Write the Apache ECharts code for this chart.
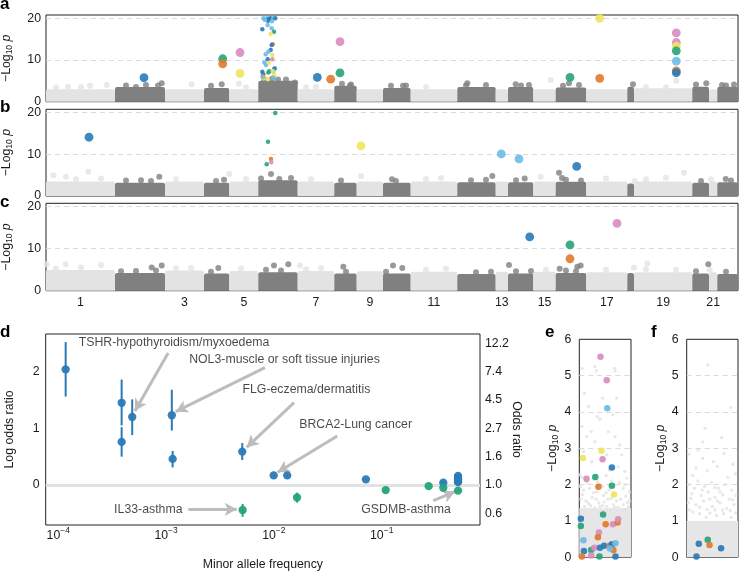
<!DOCTYPE html>
<html><head><meta charset="utf-8">
<script src="https://cdn.jsdelivr.net/npm/echarts@6/dist/echarts.min.js"></script>
<style>html,body{margin:0;padding:0;background:#fff}#c{width:739px;height:571px}</style>
</head><body><div id="c"></div>
<script>
// ---------- Manhattan panels (a, b, c) ----------
const CHR_SIZES = [69,50,39,25.3,29,39.4,36.6,22.4,26.3,27.7,46.6,38.4,12.3,25.3,22.4,30.6,41,6.7,58.3,16.7,8.3,20.7];
const CHR_TICK_LABELS = ['1','3','5','7','9','11','13','15','17','19','21'];
const MANHATTAN_TICKS = [0,10,20];
const MANHATTAN_GRIDLINES = [10,20];

const MASS_A = [3.0,3.5,3.0,3.3,3.0,5.0,3.0,3.8,3.0,3.3,3.0,3.5,3.0,3.5,3.0,3.4,3.0,3.6,3.2,3.6,3.0,3.6];
const MASS_B = [3.5,3.2,3.5,3.2,3.5,3.8,3.5,3.2,3.5,3.2,3.5,3.3,3.5,3.3,3.5,3.4,3.5,3.0,3.5,3.2,3.5,3.3];
const MASS_C = [4.9,4.2,4.8,4.1,4.7,4.4,4.7,4.1,4.6,4.1,4.5,4.0,4.5,4.1,4.5,4.2,4.4,4.2,4.4,4.1,4.4,4.0];

const GRAY_A = [[22,3.6],[44,3.8],[60.7,4.0],[90,3.5],[115.7,4.4],[145.7,4.2],[175.7,4.2],[193,4.3],[226,5.5],[232,5.3],[249,4.6],[270,3.6],[304,3.9],[357,3.8],[421.3,4.4],[469.7,4.2],[504.7,5.2],[523,4.4],[587,4.2],[630.3,5.0],[660.3,4.4],[680,3.9],
  [80,3.9],[100,4.0],[112,3.9],[165,3.8],[218,5.4],[240,5.3],[296,4.3],[305,4.1],[345,3.8],[360,3.9],[420,3.9],[440,4.0],[475,3.9],[483,4.0],[517,3.8],[533,4.0],[650,4.1],[676,4.0],[688,4.1],
  [10,3.4],[35,3.5],[200,3.4],[260,3.4],[380,3.5],[600,3.5],[620,3.4]];
const GRAY_B = [[7.3,5.0],[20,4.6],[42.3,5.8],[113.3,4.6],[183.3,5.3],[225,5.3],[233.3,4.1],[315,4.8],[346,4.0],[446.3,4.8],[478.7,4.2],[494.7,4.6],[513,5.6],[516,4.3],[588.7,3.6],[638,5.6],[679.7,4.1],
  [80,3.7],[95,3.8],[105,3.6],[170,3.6],[178,3.9],[215,4.2],[245,4.3],[295,3.7],[350,3.6],[425,3.8],[440,3.9],[470,3.8],[520,3.9],[535,3.7],[655,3.6],[685,3.7],
  [30,4.0],[55,4.2],[130,4.0],[200,4.1],[265,4.0],[380,4.1],[395,4.3],[560,4.2],[600,4.0],[620,4.4],[665,4.0]];
const GRAY_C = [[0.7,6.3],[19.7,6.3],[55,6.1],[105.7,5.5],[115.7,6.0],[172.3,5.4],[228,6.0],[242.3,6.3],[254,6.0],[297.3,5.7],[347,6.0],[356.3,5.4],[463,6.1],[513.7,5.2],[531.3,5.7],[534.7,6.0],[588,5.5],[601.3,6.5],[662.3,6.3],[663.7,4.9],
  [75,4.6],[90,4.7],[110,4.8],[165,4.5],[220,5.0],[235,4.8],[300,4.5],[340,4.5],[430,4.4],[445,4.5],[470,4.6],[485,4.7],[520,4.8],[530,4.6],[650,4.6],[680,4.5],
  [10,5.3],[35,5.5],[130,5.3],[145,5.4],[195,5.2],[260,5.1],[275,5.4],[380,5.0],[400,5.2],[500,5.0],[560,5.0],[600,5.1],[630,5.0]];

const HITS_A = [[98,5.75,'blue'],[176.7,10.3,'green'],[176.7,9.1,'orange'],[194,11.8,'pink'],[194,6.8,'yellow'],[271.3,5.85,'blue'],[284.7,5.4,'orange'],[294,14.4,'pink'],[294,6.9,'green'],[524,5.85,'green'],[553.7,5.6,'orange'],[553.7,20.0,'yellow'],[630.3,16.5,'pink'],[630.3,14.2,'pink'],[630.3,13.3,'yellow'],[630.3,12.2,'green'],[630.3,9.75,'sky'],[630.3,7.4,'orange'],[630.3,6.95,'blue']];
const HITS_A_SMALL = [[217.3,20,'sky'],[220.7,20,'sky'],[223,19.9,'blue'],[224.7,20,'blue'],[227.3,20,'sky'],[229.3,20,'blue'],[222,19.4,'blue'],[219,19.6,'sky'],[226,19.3,'sky'],[221.7,18.4,'sky'],[216.3,17.4,'blue'],[225.7,17.6,'sky'],[228,16.8,'green'],[224.7,16.3,'yellow'],[226.7,13.8,'orange'],[225.7,13.6,'blue'],[224.7,12.4,'blue'],[222.3,12.0,'sky'],[219.7,11.4,'sky'],[226.3,11.2,'yellow'],[221.7,10.2,'blue'],[226.3,10.2,'pink'],[218.3,9.4,'sky'],[220,8.8,'sky'],[223,9.3,'yellow'],[229,8.0,'sky'],[228.3,7.9,'blue'],[223.3,7.3,'green'],[216.3,7.2,'blue'],[227.3,7.2,'sky'],[222.3,7.0,'green'],[226.7,7.35,'yellow'],[228.3,6.4,'yellow'],[217.3,6.6,'blue'],[216.7,6.2,'orange'],[217.3,5.6,'yellow'],[221.7,5.4,'yellow'],[227.3,5.75,'sky'],[216.7,5.9,'sky']];
const HITS_B = [[43,14.1,'blue'],[315,12.0,'yellow'],[455.3,10.1,'sky'],[473,8.9,'sky'],[530.7,7.1,'blue']];
const HITS_B_SMALL = [[229.3,19.9,'green'],[222,13.0,'green'],[225,8.9,'orange'],[225.3,8.1,'pink'],[220.7,7.6,'green']];
const HITS_C = [[483.7,12.8,'blue'],[524,10.9,'green'],[524,7.6,'orange'],[571,16.0,'pink']];

// ---------- Panel d ----------
const D_MAF = [1.17e-4,3.87e-4,3.87e-4,4.85e-4,1.13e-3,1.15e-3,5.09e-3,9.96e-3,1.33e-2,1.64e-2,5.13e-3,7.14e-2,0.109,0.273,0.373,0.373,0.511,0.511,0.511,0.511,0.511,0.511,0.511];
const D_LOR = [2.04,1.45,0.76,1.20,1.23,0.46,0.59,0.17,0.17,-0.22,-0.44,0.10,-0.09,-0.02,0.04,-0.05,-0.10,0.16,0.13,0.11,0.09,0.07,0.05];
const D_LO  = [1.56,1.05,0.50,0.88,0.96,0.31,0.44,0.15,0.14,-0.31,-0.56,0.09,-0.10,-0.03,0.03,-0.06,-0.11,0.15,0.12,0.10,0.08,0.06,0.04];
const D_HI  = [2.52,1.86,1.02,1.51,1.68,0.60,0.74,0.19,0.20,-0.135,-0.335,0.11,-0.08,-0.01,0.05,-0.04,-0.09,0.17,0.14,0.12,0.10,0.08,0.06];
const D_GROUP = ['blue','blue','blue','blue','blue','blue','blue','blue','blue','green','green','blue','green','green','blue','green','green','blue','blue','blue','blue','blue','blue'];
const D_X_TICKS = [1e-4,1e-3,1e-2,1e-1];
const D_LEFT_TICKS = [0,1,2];
const D_RIGHT_TICKS = [-0.5,0,0.5,1,1.5,2,2.5];
const ANN_TEXT = ['TSHR-hypothyroidism/myxoedema','NOL3-muscle or soft tissue injuries','FLG-eczema/dermatitis','BRCA2-Lung cancer','IL33-asthma','GSDMB-asthma'];
const ANN_AT = [[1.53e-4,2.52],[1.62e-3,2.22],[5.06e-3,1.675],[0.0170,1.07],[3.26e-4,-0.43],[0.0640,-0.43]];
const ARROW_FROM = [[1.045e-3,2.33],[8.26e-3,2.07],[0.01538,1.452],[0.0387,0.864],[1.607e-3,-0.429],[0.301,-0.277]];
const ARROW_TO = [[5.14e-4,1.305],[1.228e-3,1.293],[5.6e-3,0.665],[0.01084,0.224],[4.52e-3,-0.429],[0.479,-0.118]];

// ---------- Panels e, f ----------
const EF_TICKS = [0,1,2,3,4,5,6];
const EF_GRIDLINES = [1,2,3,4,5];
const E_DENSE_TOP = 1.35;
const F_DENSE_TOP = 1.0;
const E_HITS = [[0.41,5.52,'pink'],[0.53,4.87,'pink'],[0.54,4.10,'sky'],[0.43,2.93,'yellow'],[0.45,2.70,'pink'],[0.07,2.73,'yellow'],[0.63,2.47,'blue'],[0.14,2.16,'pink'],[0.31,2.21,'green'],[0.37,1.94,'orange'],[0.63,1.97,'green'],[0.67,1.73,'yellow'],[0.46,1.18,'green'],[0.03,1.06,'blue'],[0.03,0.86,'green'],[0.51,0.91,'orange'],[0.65,0.91,'pink'],[0.74,0.96,'orange'],[0.75,1.05,'pink'],[0.38,0.68,'pink'],[0.36,0.55,'orange'],[0.08,0.47,'sky'],[0.09,0.17,'blue'],[0.23,0.20,'green'],[0.29,0.26,'pink'],[0.40,0.26,'blue'],[0.48,0.32,'blue'],[0.59,0.32,'orange'],[0.63,0.36,'blue'],[0.70,0.39,'sky'],[0.66,0.20,'orange'],[0.59,0.24,'sky'],[0.70,0.02,'blue'],[0.39,0.02,'green'],[0.23,0.05,'pink'],[0.05,0.02,'orange']];
const E_BG = [[0.30,5.25],[0.33,5.13],[0.05,5.2],[0.68,5.2],[0.69,5.13],[0.10,4.51],[0.45,4.38],[0.18,4.15],[0.72,4.38],[0.35,3.87],[0.40,3.8],[0.65,3.92],[0.05,3.6],[0.23,3.46],[0.56,3.46],[0.14,3.32],[0.69,3.32],[0.30,3.18],[0.78,3.09],[0.08,2.91],[0.53,2.82],[0.82,2.82],[0.24,2.63],[0.75,2.49],[0.01,2.27],[0.58,2.4],[0.88,2.36],[0.05,2.2],[0.15,2.05],[0.27,2.15],[0.40,2.0],[0.52,2.25],[0.62,2.1],[0.78,2.05],[0.92,2.18],[0.08,1.85],[0.20,1.9],[0.34,1.8],[0.47,1.7],[0.58,1.85],[0.70,1.75],[0.85,1.9],[0.97,1.8],[0.03,1.6],[0.13,1.55],[0.25,1.65],[0.38,1.5],[0.55,1.6],[0.66,1.45],[0.80,1.6],[0.93,1.5],[0.10,1.4],[0.30,1.35],[0.45,1.42],[0.75,1.38],[0.88,1.32],[0.60,1.3],
  [0.12,2.1],[0.35,2.08],[0.45,1.95],[0.68,1.98],[0.88,2.0],[0.02,1.95],[0.28,1.78],[0.52,1.78],[0.62,1.62],[0.90,1.68],[0.06,1.72],[0.18,1.48],[0.33,1.6],[0.48,1.52],[0.72,1.55],[0.85,1.45],[0.97,1.55],[0.22,1.42],[0.40,1.4],[0.53,1.4],[0.68,1.38],[0.95,1.4]];
const F_HITS = [[0.235,0.37,'blue'],[0.41,0.48,'green'],[0.445,0.34,'orange'],[0.67,0.25,'blue'],[0.19,0.02,'blue']];
const F_BG = [[0.41,5.29],[0.86,4.12],[0.36,3.55],[0.68,3.29],[0.31,3.17],[0.05,2.84],[0.22,2.95],[0.73,2.86],[0.90,2.56],[0.31,2.72],[0.52,2.63],[0.18,2.45],[0.40,2.38],[0.60,2.5],[0.12,2.25],[0.80,2.2],[0.95,2.3],[0.05,2.0],[0.22,2.1],[0.35,1.95],[0.48,2.05],[0.62,1.9],[0.75,2.0],[0.88,1.85],[0.10,1.75],[0.28,1.7],[0.42,1.8],[0.55,1.65],[0.70,1.72],[0.83,1.6],[0.96,1.7],[0.03,1.5],[0.18,1.45],[0.33,1.55],[0.50,1.4],[0.65,1.5],[0.78,1.35],[0.92,1.45],[0.12,1.25],[0.25,1.2],[0.45,1.22],[0.58,1.15],[0.72,1.2],[0.87,1.1],[0.38,1.1],
  [0.15,1.9],[0.55,1.92],[0.30,1.85],[0.65,1.8],[0.08,1.62],[0.45,1.6],[0.60,1.55],[0.90,1.58],[0.25,1.38],[0.40,1.32],[0.70,1.3],[0.85,1.28],[0.05,1.3],[0.55,1.3],[0.95,1.22]];

// ---------- styling ----------
const COLORS = {blue:'#2a7ab8', sky:'#6bbbe8', green:'#25a47a', orange:'#e27a2a', yellow:'#efe45a', pink:'#d98cbf'};
const DARK = '#808080', LIGHT = '#e3e3e3';
const FONT = 'Liberation Sans, Arial, sans-serif';
const FS = 12.3;
const TXT = '#1a1a1a';

const starts = [];
let acc = 0;
CHR_SIZES.forEach(s => { starts.push(acc); acc += s; });
const TOTAL = acc;
const centers = CHR_SIZES.map((s, k) => starts[k] + s / 2);
const oddCenters = centers.filter((c, k) => k % 2 === 0);
function chrOf(x) { for (let k = CHR_SIZES.length - 1; k >= 0; k--) if (x >= starts[k]) return k; return 0; }

const nameRich = {
  sub: {fontSize: 8.5, verticalAlign: 'bottom', fontFamily: FONT, color: TXT, padding: [6, 0, 0, 0]},
  it: {fontSize: FS, fontStyle: 'italic', fontFamily: FONT, color: TXT}
};
const LOGP_NAME = '−Log{sub|10} {it|p}';

const grids = [
  {left: 46, top: 15, width: 692, height: 86.7},
  {left: 46, top: 109.3, width: 692, height: 86.7},
  {left: 46, top: 203.3, width: 692, height: 87.4},
  {left: 45.7, top: 334, width: 434.3, height: 191},
  {left: 579.3, top: 339.3, width: 51.7, height: 218},
  {left: 686.7, top: 339.3, width: 51.3, height: 218}
].map(g => Object.assign(g, {show: true, borderColor: '#222', borderWidth: 1, backgroundColor: 'transparent',
                             containLabel: false, outerBoundsMode: 'none'}));

const xAxes = [], yAxes = [], series = [];
const gridMarkLine = (vals) => ({
  silent: true, symbol: 'none', z: 1, label: {show: false},
  lineStyle: {type: [5, 4], color: '#dadada', width: 1},
  data: vals.map(v => ({yAxis: v}))
});

function manhattan(i, mass, gray, big, small) {
  xAxes.push({
    gridIndex: i, type: 'value', min: 0, max: TOTAL,
    axisLine: {show: false}, axisTick: {show: false}, splitLine: {show: false},
    axisLabel: i === 2 ? {
      show: true, customValues: oddCenters, margin: 6, fontSize: FS, fontFamily: FONT, color: TXT,
      formatter: v => { const k = oddCenters.findIndex(c => Math.abs(c - v) < 0.01); return k >= 0 ? CHR_TICK_LABELS[k] : ''; }
    } : {show: false}
  });
  yAxes.push({
    gridIndex: i, type: 'value', min: 0, max: 20.8,
    axisLine: {show: false}, axisTick: {show: false}, splitLine: {show: false},
    axisLabel: {customValues: MANHATTAN_TICKS, margin: 5, fontSize: FS, fontFamily: FONT, color: TXT},
    name: LOGP_NAME, nameLocation: 'middle', nameGap: 32,
    nameTextStyle: {fontSize: FS, fontFamily: FONT, color: TXT, rich: nameRich}
  });
  series.push({
    type: 'custom', xAxisIndex: i, yAxisIndex: i, z: 2, silent: true,
    data: CHR_SIZES.map((s, k) => [starts[k], starts[k] + s, mass[k], k % 2]),
    renderItem: (p, api) => {
      const a = api.coord([api.value(0), 0]);
      const b = api.coord([api.value(1), api.value(2)]);
      return {type: 'rect', shape: {x: a[0], y: b[1], width: b[0] - a[0], height: a[1] - b[1], r: [2, 2, 0, 0]},
              style: {fill: api.value(3) ? DARK : LIGHT}};
    },
    markLine: gridMarkLine(MANHATTAN_GRIDLINES)
  });
  series.push({
    type: 'scatter', xAxisIndex: i, yAxisIndex: i, z: 3, silent: true, symbolSize: 6,
    data: gray.map(([x, y]) => ({value: [x, y], itemStyle: {color: chrOf(x) % 2 ? DARK : LIGHT}}))
  });
  if (small) series.push({
    type: 'scatter', xAxisIndex: i, yAxisIndex: i, z: 4, silent: true, symbolSize: 4.5,
    data: small.map(([x, y, c]) => ({value: [x, y], itemStyle: {color: COLORS[c], opacity: 0.9}}))
  });
  series.push({
    type: 'scatter', xAxisIndex: i, yAxisIndex: i, z: 5, silent: true, symbolSize: 8.8,
    data: big.map(([x, y, c]) => ({value: [x, y], itemStyle: {color: COLORS[c], opacity: 0.9}}))
  });
}
manhattan(0, MASS_A, GRAY_A, HITS_A, HITS_A_SMALL);
manhattan(1, MASS_B, GRAY_B, HITS_B, HITS_B_SMALL);
manhattan(2, MASS_C, GRAY_C, HITS_C, null);

// ---- panel d ----
xAxes.push({
  gridIndex: 3, type: 'log', logBase: 10, min: 7.64e-5, max: 0.817,
  axisLine: {show: false}, axisTick: {show: false}, splitLine: {show: false},
  axisLabel: {
    customValues: D_X_TICKS, margin: 1, fontFamily: FONT, color: TXT,
    formatter: v => '{b|10}{s|−' + Math.abs(Math.round(Math.log10(v))) + '}',
    rich: {b: {fontSize: FS, fontFamily: FONT, color: TXT, lineHeight: 16, verticalAlign: 'bottom'},
           s: {fontSize: 8.5, fontFamily: FONT, color: TXT, lineHeight: 16, verticalAlign: 'top'}}
  },
  name: 'Minor allele frequency', nameLocation: 'middle', nameGap: 34, nameMoveOverlap: false,
  nameTextStyle: {fontSize: FS, fontFamily: FONT, color: TXT}
});
yAxes.push({
  gridIndex: 3, type: 'value', min: -0.705, max: 2.663,
  axisLine: {show: false}, axisTick: {show: false}, splitLine: {show: false},
  axisLabel: {customValues: D_LEFT_TICKS, margin: 6, fontSize: FS, fontFamily: FONT, color: TXT},
  name: 'Log odds ratio', nameLocation: 'middle', nameGap: 30,
  nameTextStyle: {fontSize: FS, fontFamily: FONT, color: TXT}
});
yAxes.push({
  gridIndex: 3, type: 'value', position: 'right', min: -0.705, max: 2.663,
  axisLine: {show: false}, axisTick: {show: false}, splitLine: {show: false},
  axisLabel: {customValues: D_RIGHT_TICKS, margin: 5, fontSize: FS, fontFamily: FONT, color: TXT,
              formatter: v => Math.exp(v).toFixed(1)},
  name: 'Odds ratio', nameLocation: 'middle', nameGap: 30, nameRotate: -90, nameMoveOverlap: false,
  nameTextStyle: {fontSize: FS, fontFamily: FONT, color: TXT}
});
series.push({
  type: 'custom', xAxisIndex: 3, yAxisIndex: 3, z: 4, silent: true,
  data: D_MAF.map((m, k) => [m, D_LO[k], D_HI[k], k]),
  renderItem: (p, api) => {
    const a = api.coord([api.value(0), api.value(1)]);
    const b = api.coord([api.value(0), api.value(2)]);
    return {type: 'line', shape: {x1: a[0], y1: a[1], x2: b[0], y2: b[1]},
            style: {stroke: COLORS[D_GROUP[api.value(3)]], lineWidth: 2}};
  },
  markLine: {silent: true, symbol: 'none', z: 1, label: {show: false},
             lineStyle: {type: 'solid', color: '#e2e2e2', width: 3}, data: [{yAxis: 0}]}
});
series.push({
  type: 'scatter', xAxisIndex: 3, yAxisIndex: 3, z: 5, silent: true, symbolSize: 8.3,
  data: D_MAF.map((m, k) => ({value: [m, D_LOR[k]], itemStyle: {color: COLORS[D_GROUP[k]], opacity: 0.95}}))
});
series.push({
  type: 'scatter', xAxisIndex: 3, yAxisIndex: 3, z: 6, silent: true, symbolSize: 1,
  itemStyle: {color: 'rgba(0,0,0,0)'},
  label: {show: true, position: 'right', distance: 0, formatter: '{b}', fontSize: FS, fontFamily: FONT, color: TXT},
  data: ANN_TEXT.map((t, k) => ({name: t, value: ANN_AT[k]})),
  markLine: {silent: true, symbol: ['none', 'arrow'], symbolSize: [10, 12], z: 3, label: {show: false},
             lineStyle: {type: 'solid', color: '#bdbdbd', width: 3},
             data: ARROW_FROM.map((f, k) => [{coord: f}, {coord: ARROW_TO[k]}])}
});

// ---- panels e, f ----
function strip(gi, xi, yi, nameGap, denseTop, bg, hits) {
  xAxes.push({gridIndex: gi, type: 'value', min: 0, max: 1, show: false});
  yAxes.push({
    gridIndex: gi, type: 'value', min: 0, max: 6,
    axisLine: {show: false}, axisTick: {show: false}, splitLine: {show: false},
    axisLabel: {customValues: EF_TICKS, margin: 8, fontSize: FS, fontFamily: FONT, color: TXT},
    name: LOGP_NAME, nameLocation: 'middle', nameGap: nameGap,
    nameTextStyle: {fontSize: FS, fontFamily: FONT, color: TXT, rich: nameRich}
  });
  series.push({
    type: 'custom', xAxisIndex: xi, yAxisIndex: yi, z: 2, silent: true,
    data: [[0, 1, denseTop]],
    renderItem: (p, api) => {
      const a = api.coord([api.value(0), 0]);
      const b = api.coord([api.value(1), api.value(2)]);
      return {type: 'rect', shape: {x: a[0], y: b[1], width: b[0] - a[0], height: a[1] - b[1]}, style: {fill: '#e6e6e6'}};
    },
    markLine: gridMarkLine(EF_GRIDLINES)
  });
  series.push({
    type: 'scatter', xAxisIndex: xi, yAxisIndex: yi, z: 3, silent: true, symbolSize: 3.4,
    itemStyle: {color: '#e2e2e2'}, data: bg
  });
  series.push({
    type: 'scatter', xAxisIndex: xi, yAxisIndex: yi, z: 5, silent: true, symbolSize: 6.5,
    data: hits.map(([x, y, c]) => ({value: [x, y], itemStyle: {color: COLORS[c], opacity: 0.92}}))
  });
}
strip(4, 4, 5, 16, E_DENSE_TOP, E_BG, E_HITS);
strip(5, 5, 6, 18, F_DENSE_TOP, F_BG, F_HITS);

const letter = (t, x, y) => ({type: 'text', x: x, y: y, silent: true,
  style: {text: t, font: 'bold 17px ' + FONT, fill: '#000', verticalAlign: 'middle', textVerticalAlign: 'middle'}});

const chart = echarts.init(document.getElementById('c'), null, {renderer: 'canvas'});
chart.setOption({
  animation: false,
  backgroundColor: '#fff',
  textStyle: {fontFamily: FONT},
  grid: grids,
  xAxis: xAxes,
  yAxis: yAxes,
  series: series,
  graphic: [letter('a', 0, 4), letter('b', 0, 107.3), letter('c', 0, 202.3), letter('d', 0, 332),
            letter('e', 545, 332), letter('f', 651, 332)]
});
</script></body></html>
